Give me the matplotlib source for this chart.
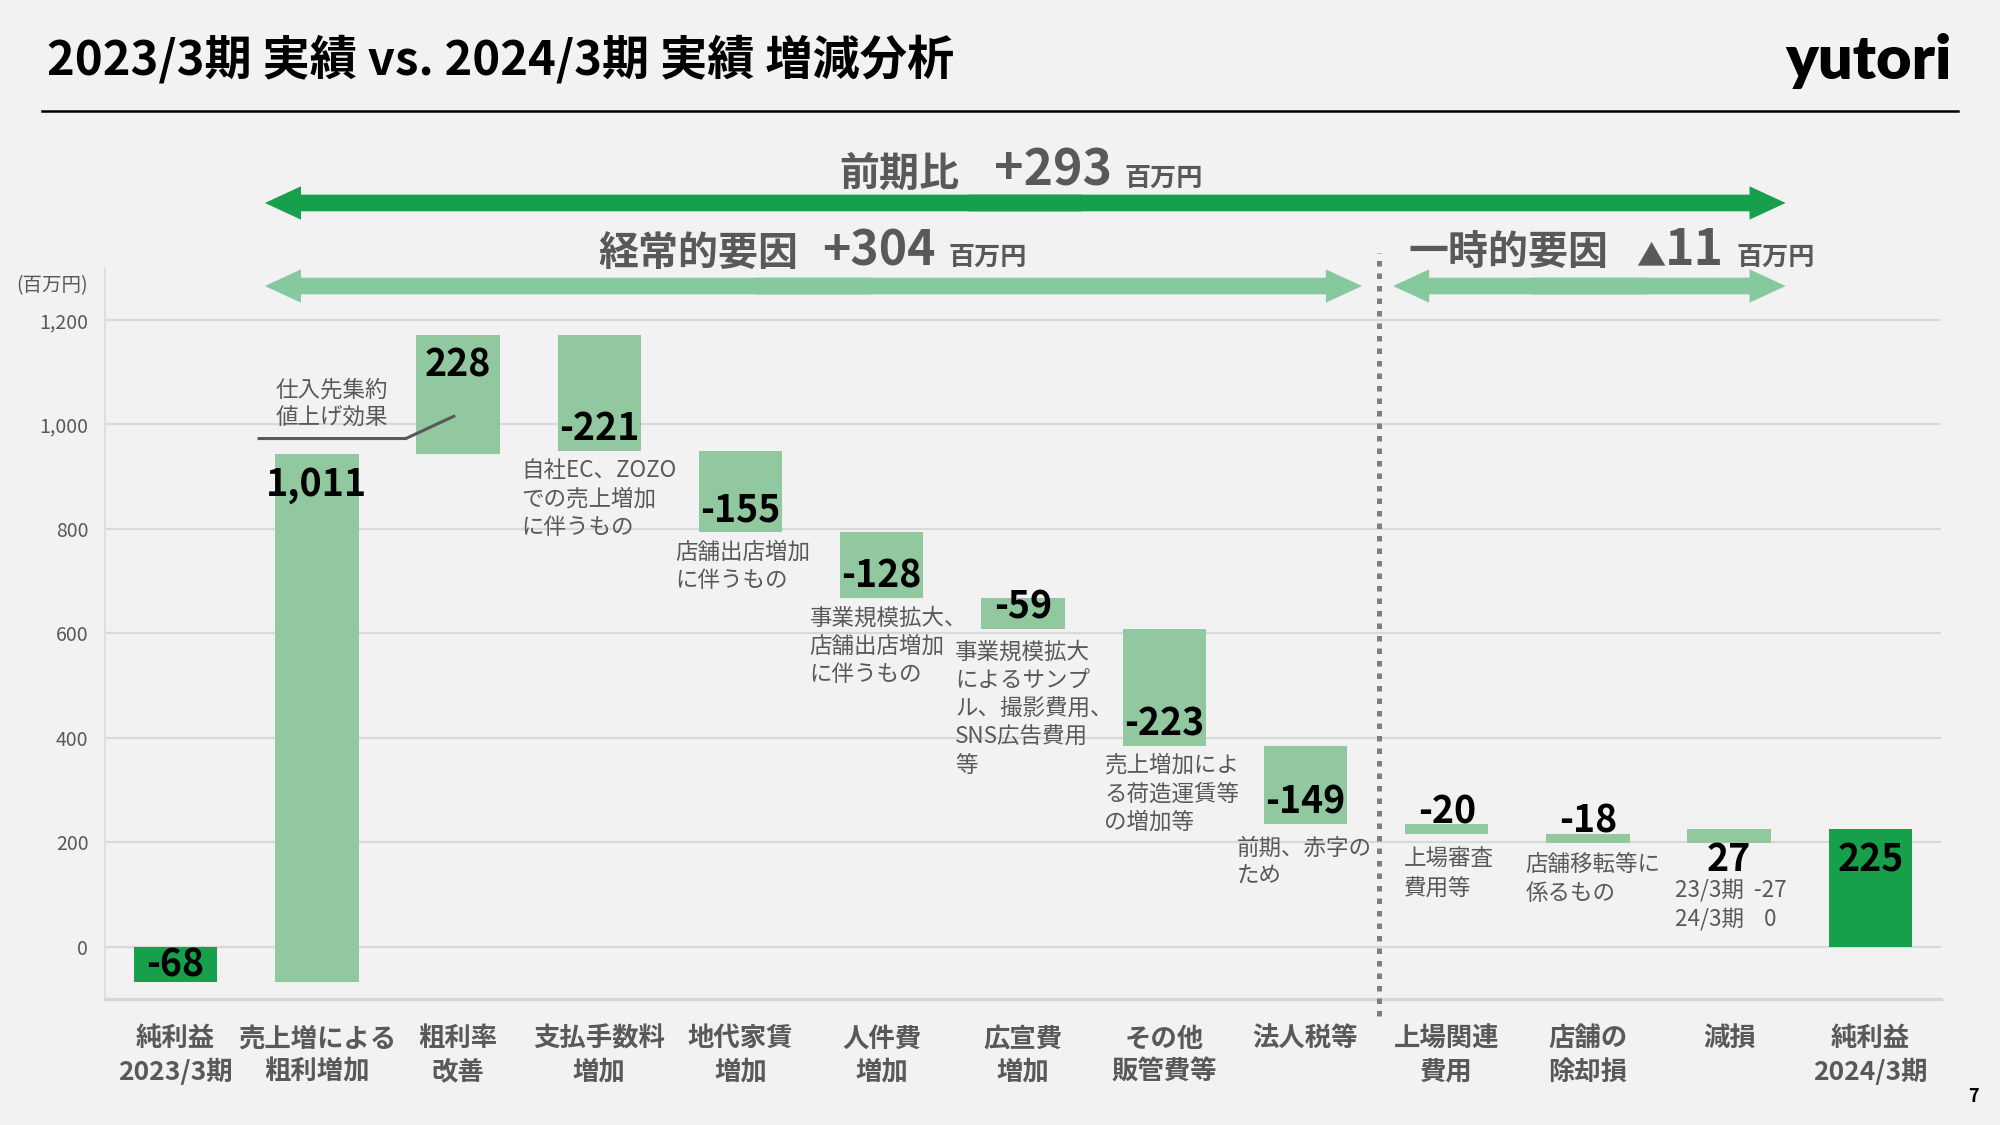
import matplotlib.pyplot as plt
from matplotlib.lines import Line2D

plt.rcParams['font.family'] = ['Noto Sans CJK JP', 'DejaVu Sans']

# -----------------------------------------------------------
#   Dados (百万円)
# -----------------------------------------------------------
categories = ["純利益\n2023/3期", "売上増による\n粗利増加", "粗利率\n改善", "支払手数料\n増加",
              "地代家賃\n増加", "人件費\n増加", "広宣費\n増加", "その他\n販管費等", "法人税等",
              "上場関連\n費用", "店舗の\n除却損", "減損", "純利益\n2024/3期"]
changes = [-68, 1011, 228, -221, -155, -128, -59, -223, -149, -20, -18, 27, 225]
is_total = [True] + [False] * 11 + [True]
yticks = [0, 200, 400, 600, 800, 1000, 1200]

notes = ["仕入先集約\n値上げ効果",
         "自社EC、ZOZO\nでの売上増加\nに伴うもの",
         "店舗出店増加\nに伴うもの",
         "事業規模拡大、\n店舗出店増加\nに伴うもの",
         "事業規模拡大\nによるサンプ\nル、撮影費用、\nSNS広告費用\n等",
         "売上増加によ\nる荷造運賃等\nの増加等",
         "前期、赤字の\nため",
         "上場審査\n費用等",
         "店舗移転等に\n係るもの",
         "23/3期  -27\n24/3期    0"]
note_pos = [(0.705, 1088), (2.448, 933), (3.541, 777), (4.488, 652), (5.520, 586),
            (6.577, 369), (7.516, 211), (8.699, 189), (9.557, 179), (10.614, 130)]

# -----------------------------------------------------------
#   Cores
# -----------------------------------------------------------
BG = "#f2f2f2"
DARK = "#16a04b"
LIGHT = "#92c8a0"
ARROW_LIGHT = "#86c99f"
GRAY = "#595959"

# waterfall
bottoms, heights = [], []
running = 0
for v, tot in zip(changes, is_total):
    if tot:
        bottoms.append(0)
        running = v
    else:
        bottoms.append(running)
        running += v
    heights.append(v)

colors = [DARK if t else LIGHT for t in is_total]
x = list(range(len(changes)))

fig = plt.figure(figsize=(10, 5.625), dpi=200, facecolor=BG)
ax = fig.add_axes([0.0525, 0.112, 0.918, 0.650])
ax.set_facecolor(BG)

ax.bar(x, heights, bottom=bottoms, width=0.59, color=colors, zorder=3)

for xi, b, v, tot in zip(x, bottoms, changes, is_total):
    top = max(b, b + v)
    low = min(b, b + v)
    if tot and v < 0:
        ly = b + v / 2
    elif v > 0:
        ly = top - 58
    else:
        ly = low + 42
    ax.text(xi, ly, f"{v:,}", ha="center", va="center", fontsize=13.5,
            fontweight="bold", color="black", zorder=5)

for txt, (nx, ny) in zip(notes, note_pos):
    ax.text(nx, ny, txt, ha="left", va="top", fontsize=8.1, color=GRAY,
            linespacing=1.3, zorder=5)

# linha do 仕入先集約
ax.plot([0.58, 1.63, 1.98], [973, 973, 1017], color=GRAY, lw=1.1, zorder=6,
        solid_capstyle="butt")

ax.set_xlim(-0.5, 12.5)
ax.set_ylim(-100, 1300)
ax.set_yticks(yticks, [f"{t:,}" for t in yticks])
ax.set_xticks(x, categories)
ax.tick_params(axis="y", length=0, pad=6, labelsize=7, labelcolor=GRAY)
ax.tick_params(axis="x", length=0, pad=9.5, labelsize=9.5, labelcolor=GRAY)
for lab in ax.get_xticklabels():
    lab.set_fontweight("bold")
    lab.set_linespacing(1.3)
ax.grid(axis="y", color="#d9d9d9", lw=0.8, zorder=0)
for s in ["top", "right"]:
    ax.spines[s].set_visible(False)
ax.spines["left"].set_color("#dcdcdc")
ax.spines["left"].set_linewidth(0.6)
ax.spines["bottom"].set_color("#d6d6d6")
ax.spines["bottom"].set_linewidth(1.2)
ax.text(-0.029, 0.975, "(百万円)", transform=ax.transAxes, ha="center", va="center",
        fontsize=7, color=GRAY)

# linha pontilhada separando fatores
ax.plot([8.52, 8.52], [-132, 1328], color="#7f7f7f", lw=1.8,
        linestyle=(0, (1.1, 1.4)), dash_capstyle="butt", clip_on=False, zorder=4)


def double_arrow(x0, x1, y, color):
    mid = (x0 + x1) / 2
    style = "simple,head_length=0.65,head_width=0.6,tail_width=0.3"
    for end, start in ((x0, mid + 0.4), (x1, mid - 0.4)):
        ax.annotate("", xy=(end, y), xytext=(start, y), annotation_clip=False,
                    arrowprops=dict(arrowstyle=style, color=color, lw=0,
                                    shrinkA=0, shrinkB=0, mutation_scale=20))


double_arrow(0.632, 11.40, 1424, DARK)
double_arrow(0.632, 8.40, 1265, ARROW_LIGHT)
double_arrow(8.62, 11.40, 1265, ARROW_LIGHT)


def ftext(px, py, s, **kw):
    fig.text(px / 2000, 1 - py / 1125, s, **kw)


hd = dict(fontweight="bold", color=GRAY, va="baseline")

# cabeçalhos
ftext(839, 186, "前期比", fontsize=14.4, **hd)
ftext(1112, 186, "+293", fontsize=18, ha="right", **hd)
ftext(1125, 186, "百万円", fontsize=9.4, **hd)

ftext(598, 265, "経常的要因", fontsize=14.4, **hd)
ftext(936, 265, "+304", fontsize=17.3, ha="right", **hd)
ftext(948, 265, "百万円", fontsize=9.4, **hd)

ftext(1408, 265, "一時的要因", fontsize=14.4, **hd)
ftext(1636, 265, "▲", fontsize=10.5, **hd)
ftext(1724, 265, "11", fontsize=18, ha="right", **hd)
ftext(1737, 265, "百万円", fontsize=9.4, **hd)

# título
ftext(47, 60, "2023/3期 実績 vs. 2024/3期 実績 増減分析", fontsize=17, fontweight="bold",
      color="black", va="center", ha="left")
fig.add_artist(Line2D([42 / 2000, 1958 / 2000], [1 - 111 / 1125] * 2, color="black", lw=0.9))
ftext(1952, 61, "yutori", fontsize=22, fontweight="heavy", color="black", va="center",
      ha="right", family=["Lato", "DejaVu Sans"])
ftext(1973, 1097, "7", fontsize=6.5, fontweight="bold", color="black", va="center", ha="center")

plt.savefig("out.png", dpi=200, facecolor=BG)
